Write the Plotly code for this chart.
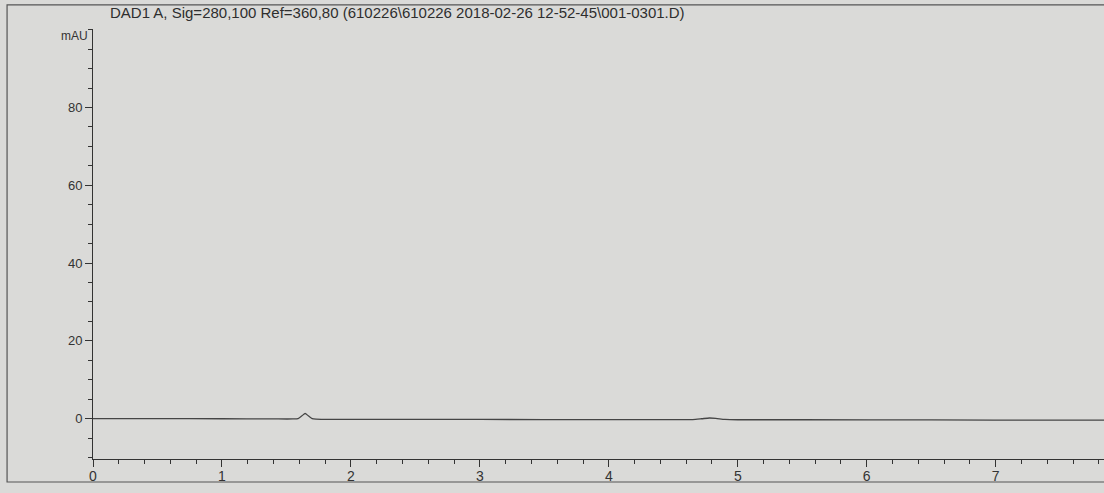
import plotly.graph_objects as go

# Retention time (min) and signal (mAU)
time_min = [0.0, 0.5, 1.0, 1.4, 1.55, 1.59, 1.62, 1.645, 1.67, 1.70, 1.73, 1.8, 2.5,
            3.5, 4.5, 4.65, 4.72, 4.78, 4.83, 4.90, 5.0, 5.5, 6.5, 7.5, 7.85]
signal_mau = [0.0, 0.0, -0.05, -0.1, -0.1, 0.0, 0.7, 1.3, 0.7, 0.0, -0.15, -0.2, -0.2,
              -0.25, -0.25, -0.25, -0.05, 0.15, 0.05, -0.2, -0.3, -0.3, -0.35, -0.4, -0.4]

y_ticks = [0, 20, 40, 60, 80]
x_ticks = [0, 1, 2, 3, 4, 5, 6, 7]
title_text = "DAD1 A, Sig=280,100 Ref=360,80 (610226\\610226 2018-02-26 12-52-45\\001-0301.D)"

ink = "#333333"
fig = go.Figure()
fig.add_trace(go.Scatter(x=time_min, y=signal_mau, mode="lines",
                         line=dict(color="#454545", width=1.3, shape="spline", smoothing=0.6),
                         hoverinfo="skip", showlegend=False))

fig.update_layout(
    width=1104, height=493,
    margin=dict(l=93, r=0, t=29, b=34),
    paper_bgcolor="#dadad8", plot_bgcolor="#dadad8",
    font=dict(family="Liberation Sans, Arial, sans-serif", size=13, color=ink),
    showlegend=False,
    xaxis=dict(range=[0, 7.84], tickvals=x_ticks, ticks="outside", ticklen=7, tickwidth=1,
               tickcolor=ink, showline=True, linecolor=ink, linewidth=1, showgrid=False,
               zeroline=False, tickfont=dict(size=14, color=ink), ticklabelstandoff=-3,
               minor=dict(dtick=0.2, tick0=0, ticks="outside", ticklen=4, tickcolor=ink, showgrid=False)),
    yaxis=dict(range=[-10.4, 100.2], tickvals=y_ticks, ticks="outside", ticklen=7, tickwidth=1,
               tickcolor=ink, showline=True, linecolor=ink, linewidth=1, showgrid=False,
               zeroline=False, tickfont=dict(size=13, color=ink),
               minor=dict(dtick=5, tick0=0, ticks="outside", ticklen=4, tickcolor=ink, showgrid=False)),
    shapes=[dict(type="rect", xref="paper", yref="paper", x0=-0.085, x1=1.02, y0=-0.0535, y1=1.056,
                 line=dict(color="#555555", width=1.2), fillcolor="rgba(0,0,0,0)", layer="below")],
    annotations=[
        dict(text=title_text, xref="paper", yref="paper", x=(108 - 93) / 1011, y=(459 - 13) / 430,
             xanchor="left", yanchor="middle", showarrow=False,
             font=dict(size=15, color="#2e2e2e")),
        dict(text="mAU", xref="paper", yref="paper", x=(90 - 93) / 1011, y=(459 - 36) / 430,
             xanchor="right", yanchor="middle", showarrow=False,
             font=dict(size=12, color=ink)),
    ],
)

fig.write_html("out.html", config={"displayModeBar": False},
               post_script="document.body.style.margin='0';document.body.style.overflow='hidden';")
